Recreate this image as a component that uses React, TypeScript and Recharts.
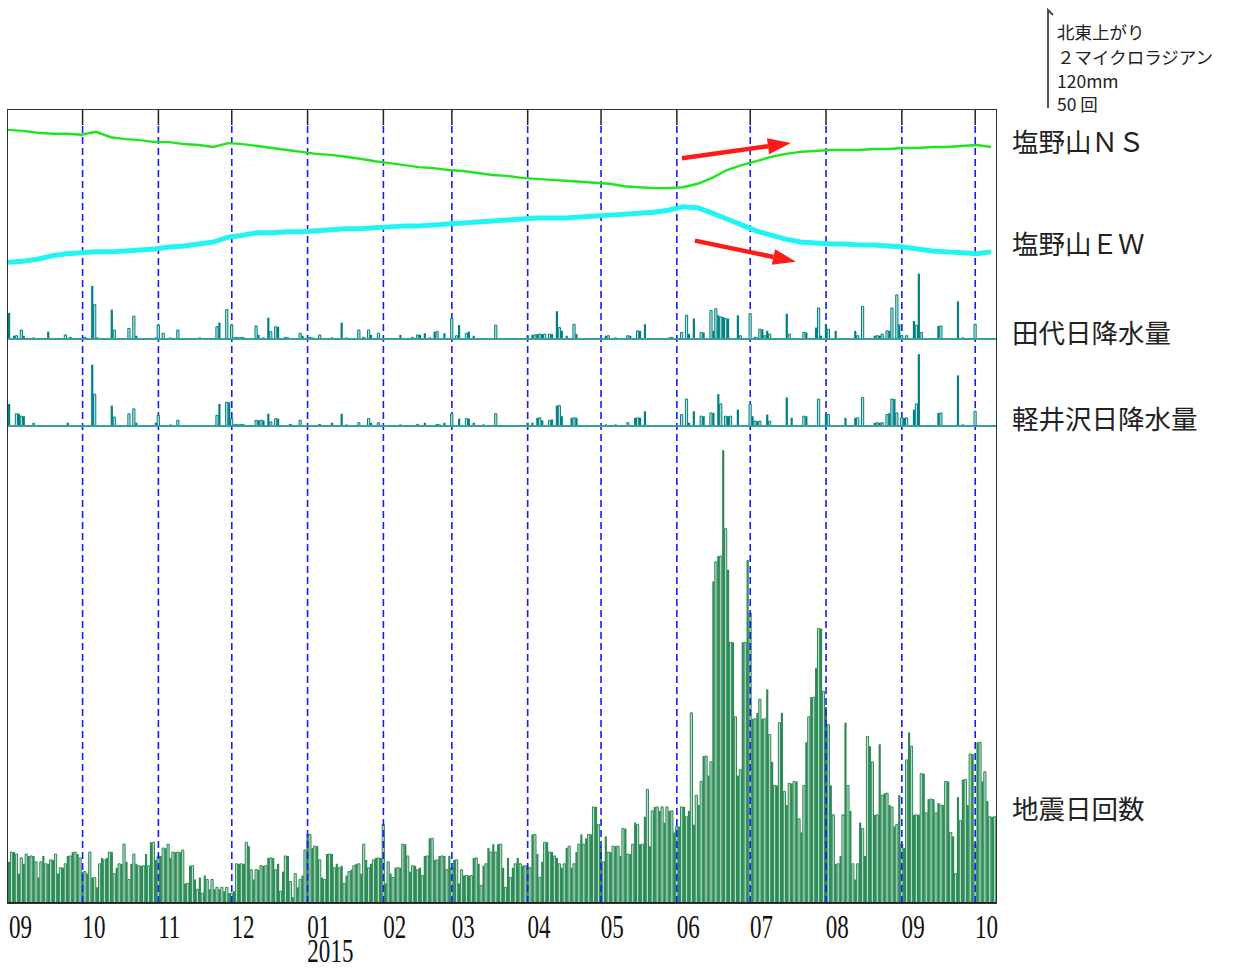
import React from 'react';
import { BarChart, Bar, Cell, XAxis, YAxis, ReferenceLine, LineChart, Line } from 'recharts';

// day index 0 = 2014-09-01, last day = 2015-10-09
const DAYS = 404;
const monthStarts = [0, 30, 61, 91, 122, 153, 181, 212, 242, 273, 303, 334, 365, 395];
const monthLabels = ['09', '10', '11', '12', '01', '02', '03', '04', '05', '06', '07', '08', '09', '10'];
const yearLabels: Record<number, string> = { 122: '2015' };

// daily earthquake counts, one array per month
const quakeSep14 = [21, 26, 26, 25, 15, 23, 20, 25, 24, 24, 24, 21, 13, 21, 24, 20, 20, 22, 22, 25, 15, 18, 18, 20, 24, 24, 26, 26, 25, 23];
const quakeOct14 = [16, 16, 15, 26, 13, 13, 8, 20, 23, 22, 23, 26, 26, 15, 18, 20, 20, 30, 21, 12, 20, 25, 20, 19, 19, 19, 25, 19, 31, 31, 22];
const quakeNov14 = [24, 24, 28, 28, 30, 23, 26, 26, 26, 26, 27, 10, 10, 19, 19, 12, 7, 13, 5, 14, 12, 7, 12, 7, 8, 7, 8, 6, 8, 5];
const quakeDec14 = [5, 6, 20, 20, 20, 20, 31, 29, 17, 12, 17, 17, 19, 19, 19, 23, 23, 23, 17, 20, 6, 16, 24, 24, 11, 3, 15, 8, 12, 14, 27];
const quakeJan15 = [35, 35, 28, 29, 29, 22, 13, 12, 25, 25, 25, 18, 20, 18, 19, 10, 14, 16, 17, 19, 20, 20, 15, 30, 22, 18, 20, 22, 23, 23, 23];
const quakeFeb15 = [40, 10, 21, 15, 13, 18, 18, 18, 30, 30, 24, 16, 19, 19, 17, 18, 14, 24, 24, 33, 33, 22, 22, 24, 24, 24, 17, 24];
const quakeMar15 = [18, 22, 22, 10, 17, 14, 14, 14, 14, 23, 23, 20, 9, 19, 20, 28, 26, 30, 26, 30, 30, 18, 8, 23, 13, 18, 20, 23, 20, 19, 19];
const quakeApr15 = [19, 18, 35, 35, 25, 13, 21, 31, 31, 26, 26, 24, 23, 20, 18, 20, 28, 29, 18, 20, 26, 30, 35, 30, 33, 35, 35, 49, 49, 40];
const quakeMay15 = [29, 21, 34, 26, 26, 29, 29, 29, 24, 38, 38, 25, 25, 30, 41, 40, 30, 30, 44, 58, 29, 47, 49, 49, 47, 49, 41, 49, 47, 47, 36];
const quakeJun15 = [39, 39, 49, 49, 44, 47, 97, 40, 55, 50, 62, 75, 75, 65, 72, 164, 174, 177, 177, 231, 191, 170, 133, 133, 95, 65, 68, 133, 133, 175];
const quakeJul15 = [148, 94, 94, 97, 104, 94, 94, 109, 86, 72, 60, 60, 92, 97, 57, 50, 61, 61, 62, 62, 43, 36, 60, 82, 95, 105, 105, 120, 140, 140, 108];
const quakeAug15 = [100, 91, 60, 45, 20, 20, 24, 45, 92, 60, 47, 20, 12, 20, 41, 38, 24, 85, 80, 72, 45, 45, 81, 55, 56, 56, 50, 49, 39, 40, 55];
const quakeSep15 = [30, 28, 73, 87, 80, 45, 45, 45, 66, 66, 46, 53, 53, 53, 46, 51, 50, 50, 62, 62, 36, 34, 15, 54, 42, 63, 63, 50, 76, 76];
const quakeOct15 = [30, 82, 82, 62, 67, 52, 44, 44, 44];

// daily rainfall (mm), [day index, mm]; days not listed had none
const rainTashiro: [number, number][] = [
  [0, 32], [2, 4], [3, 4], [5, 11], [6, 4], [10, 2], [16, 9], [23, 5], [25, 2], [31, 2], [34, 65], [35, 42], [36, 2],
  [42, 36], [43, 11], [49, 13], [51, 28], [52, 4], [60, 2], [61, 17], [63, 7], [66, 2], [69, 11], [78, 2], [85, 15],
  [86, 20], [89, 36], [91, 17], [92, 2], [93, 2], [94, 2], [95, 2], [96, 2], [101, 16], [102, 5], [104, 2], [106, 26],
  [107, 9], [109, 15], [110, 15], [113, 2], [114, 2], [119, 7], [120, 4], [122, 2], [123, 2], [124, 2], [127, 5],
  [132, 2], [136, 20], [138, 2], [143, 11], [145, 2], [147, 11], [148, 5], [151, 7], [160, 5], [165, 2], [167, 5],
  [168, 5], [170, 7], [172, 2], [174, 9], [175, 9], [178, 7], [181, 25], [183, 4], [184, 17], [187, 7], [188, 9],
  [190, 4], [199, 17], [212, 4], [214, 5], [215, 5], [216, 6], [217, 6], [218, 6], [219, 6], [221, 6], [222, 6],
  [224, 34], [225, 14], [226, 10], [228, 4], [231, 18], [232, 6], [244, 4], [245, 4], [248, 2], [253, 4], [254, 4],
  [257, 10], [258, 10], [260, 18], [270, 2], [271, 2], [275, 8], [277, 29], [278, 6], [280, 25], [283, 8], [284, 8],
  [287, 35], [288, 10], [289, 37], [290, 29], [291, 27], [292, 27], [293, 25], [294, 25], [298, 29], [299, 4],
  [303, 31], [305, 2], [306, 2], [307, 12], [308, 12], [309, 4], [310, 10], [311, 6], [318, 31], [319, 6], [325, 8],
  [326, 8], [330, 14], [331, 38], [332, 4], [334, 18], [335, 12], [338, 10], [346, 10], [347, 4], [349, 40],
  [354, 4], [355, 4], [356, 4], [357, 6], [359, 10], [360, 10], [361, 38], [363, 54], [364, 18], [365, 4], [367, 4],
  [370, 22], [371, 17], [372, 80], [373, 8], [380, 16], [381, 16], [388, 46], [390, 2], [395, 18],
];
const rainKaruizawa: [number, number][] = [
  [0, 27], [3, 15], [4, 15], [5, 12], [6, 12], [10, 4], [24, 4], [34, 75], [35, 39], [42, 25], [43, 11], [49, 15],
  [51, 21], [52, 4], [60, 4], [61, 13], [66, 2], [69, 7], [85, 13], [86, 27], [89, 29], [90, 29], [91, 9], [92, 2],
  [93, 2], [94, 2], [95, 2], [96, 2], [101, 7], [102, 7], [103, 7], [104, 7], [106, 15], [107, 5], [109, 9],
  [110, 9], [115, 2], [119, 7], [127, 2], [132, 4], [136, 15], [138, 2], [143, 4], [147, 9], [148, 4], [151, 4],
  [160, 2], [167, 2], [170, 4], [175, 2], [176, 2], [178, 4], [181, 15], [184, 9], [187, 9], [188, 9], [190, 4],
  [194, 2], [199, 15], [212, 4], [214, 4], [216, 10], [217, 10], [218, 7], [221, 7], [222, 8], [224, 25], [225, 25],
  [226, 12], [230, 10], [231, 10], [232, 10], [244, 2], [248, 2], [253, 4], [256, 10], [257, 10], [258, 10],
  [260, 18], [275, 14], [277, 33], [278, 4], [280, 18], [283, 12], [284, 12], [287, 16], [288, 16], [290, 39],
  [291, 27], [293, 12], [294, 12], [295, 12], [298, 20], [303, 27], [304, 12], [305, 6], [306, 6], [307, 6],
  [310, 14], [311, 6], [318, 35], [320, 10], [325, 12], [326, 12], [331, 33], [334, 14], [335, 14], [342, 10],
  [346, 10], [347, 10], [349, 35], [354, 4], [355, 4], [356, 4], [357, 4], [359, 14], [360, 16], [361, 33],
  [362, 33], [363, 16], [365, 10], [366, 10], [367, 10], [370, 20], [371, 27], [372, 88], [380, 16], [381, 16],
  [388, 62], [390, 2], [395, 18],
];

// tilt (microradian, relative), sampled days
const tiltDays = [
  0, 6, 12, 18, 24, 30, 36, 42, 48, 54, 60, 66, 72, 78, 84, 90, 96, 102, 108, 114, 120, 126, 132, 138, 144, 150,
  156, 162, 168, 174, 180, 186, 192, 198, 204, 210, 216, 222, 228, 234, 240, 246, 252, 258, 264, 270, 276, 282,
  288, 294, 300, 306, 312, 318, 324, 330, 336, 342, 348, 354, 360, 366, 372, 378, 384, 390, 396, 402,
];
const tiltNS = [
  2.86, 2.84, 2.8, 2.78, 2.78, 2.76, 2.82, 2.71, 2.67, 2.65, 2.61, 2.61, 2.57, 2.55, 2.51, 2.59, 2.57, 2.53, 2.49,
  2.45, 2.41, 2.37, 2.35, 2.31, 2.27, 2.22, 2.18, 2.14, 2.1, 2.08, 2.04, 2.02, 1.98, 1.94, 1.92, 1.88, 1.86, 1.84,
  1.82, 1.8, 1.78, 1.76, 1.71, 1.69, 1.67, 1.67, 1.69, 1.76, 1.88, 2.04, 2.14, 2.22, 2.31, 2.37, 2.41, 2.43, 2.45,
  2.45, 2.45, 2.47, 2.47, 2.49, 2.49, 2.51, 2.51, 2.53, 2.55, 2.51,
];
const tiltEW = [
  0.16, 0.18, 0.22, 0.29, 0.33, 0.35, 0.37, 0.37, 0.39, 0.41, 0.43, 0.47, 0.49, 0.53, 0.57, 0.67, 0.71, 0.76, 0.76,
  0.78, 0.78, 0.8, 0.82, 0.84, 0.84, 0.86, 0.88, 0.9, 0.9, 0.92, 0.94, 0.96, 0.98, 1.0, 1.02, 1.04, 1.06, 1.06,
  1.06, 1.08, 1.1, 1.12, 1.14, 1.16, 1.18, 1.22, 1.29, 1.27, 1.16, 1.04, 0.92, 0.8, 0.71, 0.63, 0.57, 0.55, 0.53,
  0.53, 0.51, 0.51, 0.49, 0.47, 0.43, 0.39, 0.37, 0.35, 0.33, 0.37,
];

// red annotation arrows, [day, tilt] start and end
const arrows = [
  { from: [275.6, 2.28], to: [320.1, 2.59] },
  { from: [280.9, 0.6], to: [322.2, 0.17] },
];

const quakeCounts = [
  ...quakeSep14, ...quakeOct14, ...quakeNov14, ...quakeDec14, ...quakeJan15, ...quakeFeb15, ...quakeMar15,
  ...quakeApr15, ...quakeMay15, ...quakeJun15, ...quakeJul15, ...quakeAug15, ...quakeSep15, ...quakeOct15,
];
const tashiroByDay = new Array(DAYS).fill(0);
rainTashiro.forEach(([d, v]) => { tashiroByDay[d] = v; });
const karuizawaByDay = new Array(DAYS).fill(0);
rainKaruizawa.forEach(([d, v]) => { karuizawaByDay[d] = v; });

const dailyData = Array.from({ length: DAYS }, (_, i) => ({
  day: i,
  quake: quakeCounts[i] ?? 0,
  tashiro: tashiroByDay[i],
  karuizawa: karuizawaByDay[i],
}));
const tiltData = tiltDays.map((d, i) => ({ day: d, ns: tiltNS[i], ew: tiltEW[i] }));

// layout (px)
const PLOT_LEFT = 8;
const PLOT_W = 988;
const PLOT_TOP = 110;
const QUAKE_BASE = 903;
const SCALE_PX = 98; // length of the scale bar: 2 μrad / 120 mm / 50 counts
const BAND = PLOT_W / DAYS;
const QMAX = ((QUAKE_BASE - PLOT_TOP) * 50) / SCALE_PX;
const qAt = (y: number) => ((QUAKE_BASE - y) * 50) / SCALE_PX;
const TILT_H = 160;
const TILT_MAX = TILT_H * 2 / SCALE_PX;

const QUAKE_DARK = '#2e8b57';
const QUAKE_LIGHT = '#b8dcc6';
const RAIN_DARK = '#008080';
const RAIN_LIGHT = '#bfe2e2';

const MonthTick = (props: any) => {
  const { x, payload } = props;
  const idx = monthStarts.indexOf(payload.value);
  if (idx < 0) return null;
  const left = x - BAND / 2 + 1;
  const textProps = { fontFamily: 'Liberation Serif', fontSize: 32, fill: '#111' };
  return (
    <g>
      <text transform={`translate(${left} 938) scale(0.72 1.06)`} {...textProps}>{monthLabels[idx]}</text>
      {yearLabels[payload.value] && (
        <text transform={`translate(${left} 962) scale(0.72 1.06)`} {...textProps}>{yearLabels[payload.value]}</text>
      )}
    </g>
  );
};

const ArrowShape = (p: any) => {
  const { x1, y1, x2, y2 } = p;
  const a = Math.atan2(y2 - y1, x2 - x1);
  const L = 23;
  const W = 8;
  const bx = x2 - L * Math.cos(a);
  const by = y2 - L * Math.sin(a);
  const pts = `${x2},${y2} ${bx + W * Math.sin(a)},${by - W * Math.cos(a)} ${bx - W * Math.sin(a)},${by + W * Math.cos(a)}`;
  return (
    <g>
      <line x1={x1} y1={y1} x2={bx} y2={by} stroke="#ff1a1a" strokeWidth={4.5} />
      <polygon points={pts} fill="#ff1a1a" />
    </g>
  );
};

const RainPanel: React.FC<{ dataKey: string; base: number }> = ({ dataKey, base }) => (
  <div style={{ position: 'absolute', left: PLOT_LEFT, top: base - SCALE_PX }}>
    <BarChart width={PLOT_W} height={SCALE_PX + 2} data={dailyData} margin={{ top: 0, right: 0, bottom: 2, left: 0 }} barCategoryGap={0} barGap={0}>
      <XAxis dataKey="day" hide />
      <YAxis hide domain={[0, 120]} allowDataOverflow />
      <Bar dataKey={dataKey} barSize={BAND} isAnimationActive={false}>
        {dailyData.map((d, i) => (
          <Cell key={i} fill={i % 2 === 0 ? RAIN_DARK : RAIN_LIGHT} stroke={RAIN_DARK} strokeWidth={i % 2 === 0 ? 0 : 1} />
        ))}
      </Bar>
      <ReferenceLine y={0} stroke="#3a9e9e" strokeWidth={1.8} />
    </BarChart>
  </div>
);

const labelStyle: React.CSSProperties = {
  position: 'absolute', left: 1012, fontFamily: '"Noto Sans CJK JP", sans-serif', fontSize: 26.5,
  lineHeight: '27px', color: '#222', whiteSpace: 'nowrap',
};
const legendStyle: React.CSSProperties = {
  position: 'absolute', left: 1057, fontFamily: '"Noto Sans CJK JP", sans-serif', fontSize: 17.5,
  lineHeight: '18px', color: '#222', whiteSpace: 'nowrap',
};

const App: React.FC = () => (
  <div style={{ position: 'absolute', left: 0, top: 0, width: 1234, height: 969, background: '#fff', overflow: 'hidden' }}>
    {/* earthquake counts + month grid + time axis */}
    <div style={{ position: 'absolute', left: 0, top: 0 }}>
      <BarChart width={1234} height={969} data={dailyData} margin={{ top: PLOT_TOP, right: 1234 - PLOT_LEFT - PLOT_W, bottom: 0, left: PLOT_LEFT }} barCategoryGap={0} barGap={0}>
        <XAxis dataKey="day" height={66} ticks={monthStarts} interval={0} tick={<MonthTick />} tickLine={false} axisLine={{ stroke: '#222', strokeWidth: 2 }} />
        <YAxis hide domain={[0, QMAX]} allowDataOverflow />
        {monthStarts.slice(1).map((m) => (
          <ReferenceLine key={`d${m}`} segment={[{ x: m, y: 0 }, { x: m, y: qAt(126) }]} stroke="#1a1aff" strokeWidth={1.6} strokeDasharray="7 4" />
        ))}
        {monthStarts.slice(1).map((m) => (
          <ReferenceLine key={`t${m}`} segment={[{ x: m, y: qAt(125) }, { x: m, y: QMAX }]} stroke="#222" strokeWidth={1.5} />
        ))}
        <Bar dataKey="quake" barSize={BAND} isAnimationActive={false}>
          {dailyData.map((d, i) => (
            <Cell key={i} fill={i % 2 === 0 ? QUAKE_DARK : QUAKE_LIGHT} stroke={QUAKE_DARK} strokeWidth={i % 2 === 0 ? 0 : 1} />
          ))}
        </Bar>
      </BarChart>
    </div>

    {/* frame */}
    <div style={{ position: 'absolute', left: PLOT_LEFT - 1, top: PLOT_TOP - 1, width: PLOT_W, height: QUAKE_BASE - PLOT_TOP, border: '1px solid #333', pointerEvents: 'none' }} />

    {/* rainfall panels */}
    <RainPanel dataKey="tashiro" base={339} />
    <RainPanel dataKey="karuizawa" base={426} />

    {/* tilt */}
    <div style={{ position: 'absolute', left: PLOT_LEFT, top: PLOT_TOP }}>
      <LineChart width={PLOT_W} height={TILT_H} data={tiltData} margin={{ top: 0, right: 0, bottom: 0, left: 0 }}>
        <XAxis dataKey="day" type="number" domain={[0, DAYS]} hide />
        <YAxis hide domain={[0, TILT_MAX]} allowDataOverflow />
        <Line dataKey="ns" stroke="#1ee61e" strokeWidth={2.4} dot={false} isAnimationActive={false} />
        <Line dataKey="ew" stroke="#22f4f4" strokeWidth={5} dot={false} isAnimationActive={false} />
        {arrows.map((a, i) => (
          <ReferenceLine key={i} segment={[{ x: a.from[0], y: a.from[1] }, { x: a.to[0], y: a.to[1] }]} shape={ArrowShape} />
        ))}
      </LineChart>
    </div>

    {/* series labels */}
    <div style={{ ...labelStyle, top: 127 }}>塩野山ＮＳ</div>
    <div style={{ ...labelStyle, top: 229 }}>塩野山ＥＷ</div>
    <div style={{ ...labelStyle, top: 318 }}>田代日降水量</div>
    <div style={{ ...labelStyle, top: 404 }}>軽井沢日降水量</div>
    <div style={{ ...labelStyle, top: 794 }}>地震日回数</div>

    {/* scale legend */}
    <svg style={{ position: 'absolute', left: 1040, top: 4 }} width={20} height={110}>
      <path d="M8,104 L8,6 L13,11" fill="none" stroke="#444" strokeWidth={1.8} />
    </svg>
    <div style={{ ...legendStyle, top: 23 }}>北東上がり</div>
    <div style={{ ...legendStyle, top: 48 }}>２マイクロラジアン</div>
    <div style={{ ...legendStyle, top: 72 }}>120mm</div>
    <div style={{ ...legendStyle, top: 95 }}>50 回</div>
  </div>
);

export default App;
